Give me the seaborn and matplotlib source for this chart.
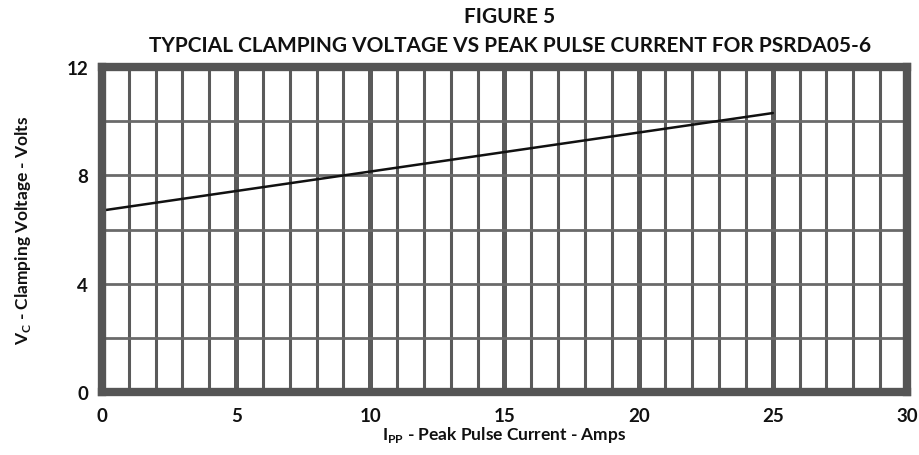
import matplotlib
matplotlib.use("Agg")
import matplotlib.pyplot as plt
import seaborn as sns
import pandas as pd

# Data
current_amps = [0, 25]
clamp_volts = [6.7, 10.3]
x_ticks = [0, 5, 10, 15, 20, 25, 30]
y_ticks = [0, 4, 8, 12]

sns.set_theme(style="white")
plt.rcParams["font.family"] = ["Lato", "DejaVu Sans"]
plt.rcParams["mathtext.default"] = "bf"

fig = plt.figure(figsize=(9.2, 4.56), dpi=100)
ax = fig.add_axes([102/920, 63/456, 805/920, 325/456])

df = pd.DataFrame({"I": current_amps, "V": clamp_volts})

grid_col = "#5a5a5a"
for xv in range(1, 30):
    lw = 3.6 if xv % 5 == 0 else 2.2
    ax.axvline(xv, color=grid_col, lw=lw, zorder=1)
for yv in range(2, 12, 2):
    ax.axhline(yv, color="#6a6a6a", lw=2.0, zorder=1)

sns.lineplot(data=df, x="I", y="V", ax=ax, color="#111111", lw=1.8, zorder=3)

ax.set_xlim(0, 30)
ax.set_ylim(0, 12)
ax.set_xticks(x_ticks)
ax.set_yticks(y_ticks)
ax.set_xticklabels([str(t) for t in x_ticks], fontsize=13.5, fontweight="bold", color="#111111")
ax.set_yticklabels([str(t) for t in y_ticks], fontsize=13.5, fontweight="bold", color="#111111")
ax.tick_params(axis="x", length=0, pad=11)
ax.tick_params(axis="y", length=0, pad=10)

for s in ax.spines.values():
    s.set_visible(True)
    s.set_color("#555555")
    s.set_linewidth(6)
    s.set_zorder(4)

ax.set_xlabel(r"I$_{\mathregular{PP}}$ - Peak Pulse Current - Amps", fontsize=12.5,
              fontweight="bold", color="#111111", labelpad=0)
ax.set_ylabel(r"V$_{\mathregular{C}}$ - Clamping Voltage - Volts", fontsize=12.5,
              fontweight="bold", color="#111111", labelpad=24)

fig.text(510/920, 1 - 17/456, "FIGURE 5", ha="center", va="center",
         fontsize=15, fontweight="bold", color="#111111")
fig.text(510/920, 1 - 46/456, "TYPCIAL CLAMPING VOLTAGE VS PEAK PULSE CURRENT FOR PSRDA05-6",
         ha="center", va="center", fontsize=15, fontweight="bold", color="#111111")

fig.savefig("out.png", dpi=100)
